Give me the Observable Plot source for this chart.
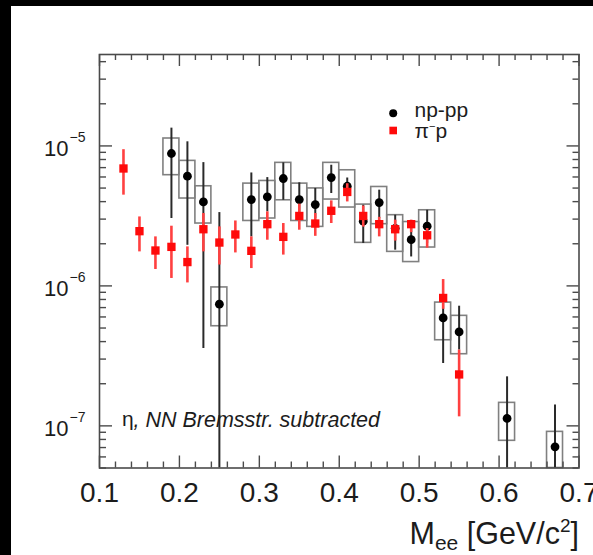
<!DOCTYPE html>
<html>
<head>
<meta charset="utf-8">
<script src="https://cdn.jsdelivr.net/npm/d3@7"></script>
<script src="https://cdn.jsdelivr.net/npm/@observablehq/plot@0.6"></script>
<style>
  html, body { margin: 0; padding: 0; background: #fff; }
  #wrap { position: relative; width: 593px; height: 555px; overflow: hidden; }
  #wrap svg { position: absolute; left: 0; top: 0; }
  .barL { position: absolute; left: 0; top: 0; width: 11px; height: 555px; background: #000; }
  .barT { position: absolute; left: 0; top: 0; width: 593px; height: 6px; background: #000; }
</style>
</head>
<body>
<div id="wrap"><div class="barL"></div><div class="barT"></div></div>
<script>
// ---- data: np-pp (black) ----
const npX     = [0.19, 0.21, 0.23, 0.25, 0.29, 0.31, 0.33, 0.35, 0.37, 0.39, 0.41, 0.43, 0.45, 0.47, 0.49, 0.51, 0.53, 0.55, 0.61, 0.67];
const npY     = [8.83e-6, 6.08e-6, 3.98e-6, 7.4e-7, 4.14e-6, 4.33e-6, 5.85e-6, 4.14e-6, 3.81e-6, 5.94e-6, 5.15e-6, 2.9e-6, 3.94e-6, 2.58e-6, 2.14e-6, 2.67e-6, 5.9e-7, 4.69e-7, 1.13e-7, 7.08e-8];
const npErrLo = [3.03e-6, 1.95e-6, 3.57e-7, 5e-8, 2.24e-6, 3.38e-6, 4.09e-6, 3.2e-6, 3.03e-6, 4.57e-6, 4.37e-6, 2.01e-6, 3.03e-6, 1.8e-6, 1.61e-6, 2.01e-6, 2.79e-7, 3.48e-7, 5e-8, 5e-8];
const npErrHi = [1.34e-5, 1.07e-5, 7.6e-6, 3.34e-6, 6.41e-6, 5.94e-6, 7.57e-6, 5.45e-6, 4.97e-6, 7.28e-6, 5.9e-6, 3.77e-6, 4.83e-6, 3.2e-6, 2.86e-6, 3.47e-6, 7.48e-7, 7.16e-7, 2.24e-7, 1.41e-7];
const npSysLo = [6.18e-6, 4.21e-6, 2.79e-6, 5.15e-7, 2.91e-6, 3.03e-6, 4.09e-6, 2.91e-6, 2.64e-6, 4.14e-6, 3.63e-6, 2.03e-6, 2.76e-6, 1.75e-6, 1.48e-6, 1.88e-6, 4.09e-7, 3.25e-7, 7.82e-8, 5e-8];
const npSysHi = [1.13e-5, 7.82e-6, 5.15e-6, 9.75e-7, 5.38e-6, 5.62e-6, 7.57e-6, 5.38e-6, 4.97e-6, 7.57e-6, 6.7e-6, 3.81e-6, 5.09e-6, 3.2e-6, 2.86e-6, 3.47e-6, 7.6e-7, 6.11e-7, 1.46e-7, 9.06e-8];
const npBinHalf = 0.01;

// ---- data: pi- p (red) ----
const pimX     = [0.13, 0.15, 0.17, 0.19, 0.21, 0.23, 0.25, 0.27, 0.29, 0.31, 0.33, 0.35, 0.37, 0.39, 0.41, 0.43, 0.45, 0.47, 0.49, 0.51, 0.53, 0.55];
const pimY     = [6.9e-6, 2.46e-6, 1.79e-6, 1.9e-6, 1.48e-6, 2.54e-6, 2.04e-6, 2.33e-6, 1.78e-6, 2.76e-6, 2.24e-6, 3.16e-6, 2.79e-6, 3.44e-6, 4.69e-6, 3.16e-6, 2.76e-6, 2.54e-6, 2.76e-6, 2.3e-6, 8.2e-7, 2.33e-7];
const pimErrLo = [4.45e-6, 1.75e-6, 1.31e-6, 1.13e-6, 1.05e-6, 1.75e-6, 1.41e-6, 1.72e-6, 1.33e-6, 2.12e-6, 1.66e-6, 2.5e-6, 2.26e-6, 2.79e-6, 3.98e-6, 2.63e-6, 2.24e-6, 2.09e-6, 2.4e-6, 1.86e-6, 6.8e-7, 1.16e-7];
const pimErrHi = [9.4e-6, 3.11e-6, 2.24e-6, 2.67e-6, 1.9e-6, 3.29e-6, 2.64e-6, 2.91e-6, 2.24e-6, 3.38e-6, 2.79e-6, 3.84e-6, 3.29e-6, 4.05e-6, 5.37e-6, 3.72e-6, 3.09e-6, 2.95e-6, 2.95e-6, 2.57e-6, 1.11e-6, 3.48e-7];

// ---- axes ----
const xDomain = [0.1, 0.7];
const yDomain = [5e-8, 4.5e-5];
const xMajor = [0.1, 0.2, 0.3, 0.4, 0.5, 0.6, 0.7];
const xMajorLabels = ["0.1", "0.2", "0.3", "0.4", "0.5", "0.6", "0.7"];
const xMinor = [0.12, 0.14, 0.16, 0.18, 0.22, 0.24, 0.26, 0.28, 0.32, 0.34, 0.36, 0.38, 0.42, 0.44, 0.46, 0.48, 0.52, 0.54, 0.56, 0.58, 0.62, 0.64, 0.66, 0.68];
const yMajor = [1e-5, 1e-6, 1e-7];
const yMajorExp = ["\u22125", "\u22126", "\u22127"];
const yMinor = [5e-8, 6e-8, 7e-8, 8e-8, 9e-8,
                2e-7, 3e-7, 4e-7, 5e-7, 6e-7, 7e-7, 8e-7, 9e-7,
                2e-6, 3e-6, 4e-6, 5e-6, 6e-6, 7e-6, 8e-6, 9e-6,
                2e-5, 3e-5, 4e-5];
const xTitle = "Mee [GeV/c2]";
const legendLabels = ["np-pp", "pi-p"];
const noteGreek = "\u03B7";
const noteText = ", NN Bremsstr. subtracted";

const np = npX.map((x, i) => ({x, y: npY[i], lo: npErrLo[i], hi: npErrHi[i], slo: npSysLo[i], shi: npSysHi[i]}));
const pim = pimX.map((x, i) => ({x, y: pimY[i], lo: pimErrLo[i], hi: pimErrHi[i]}));

const W = 593, H = 555;
const mL = 99, mR = 14.5, mT = 54, mB = 87.5;
const pW = W - mL - mR, pH = H - mT - mB;
const axisCol = "#4a4a4a";
const txtCol = "#1c1c1c";
const majLen = 12, minLen = 6;

const svg = Plot.plot({
  width: W, height: H,
  marginLeft: mL, marginRight: mR, marginTop: mT, marginBottom: mB,
  style: {fontFamily: "'Liberation Sans', Arial, Helvetica, sans-serif", background: "transparent", overflow: "visible"},
  x: {domain: xDomain, axis: null},
  y: {type: "log", domain: yDomain, axis: null},
  marks: [
    // systematic boxes
    Plot.rect(np, {x1: d => d.x - npBinHalf, x2: d => d.x + npBinHalf, y1: "slo", y2: "shi", fill: "none", stroke: "#808080", strokeWidth: 1.6}),
    // np-pp error bars and points
    Plot.ruleX(np, {x: "x", y1: "lo", y2: "hi", stroke: "#2a2a2a", strokeWidth: 2}),
    Plot.dot(np, {x: "x", y: "y", r: 4.4, fill: "#000", stroke: "none"}),
    // pi- p
    Plot.ruleX(pim, {x: "x", y1: "lo", y2: "hi", stroke: "#ff4040", strokeWidth: 2.6}),
    Plot.dot(pim, {x: "x", y: "y", symbol: "square", r: 4.7, fill: "#ff0a0a", stroke: "none"}),
    // frame
    Plot.frame({stroke: axisCol, strokeWidth: 1.6}),
    // ticks bottom/top
    Plot.ruleX(xMajor, {x: d => d, insetTop: pH - majLen, stroke: axisCol, strokeWidth: 1.4}),
    Plot.ruleX(xMinor, {x: d => d, insetTop: pH - minLen, stroke: axisCol, strokeWidth: 1.4}),
    Plot.ruleX(xMajor, {x: d => d, insetBottom: pH - majLen, stroke: axisCol, strokeWidth: 1.4}),
    Plot.ruleX(xMinor, {x: d => d, insetBottom: pH - minLen, stroke: axisCol, strokeWidth: 1.4}),
    // ticks left/right
    Plot.ruleY(yMajor, {y: d => d, insetRight: pW - majLen - 1, stroke: axisCol, strokeWidth: 1.4}),
    Plot.ruleY(yMinor, {y: d => d, insetRight: pW - minLen - 1, stroke: axisCol, strokeWidth: 1.4}),
    Plot.ruleY(yMajor, {y: d => d, insetLeft: pW - majLen, stroke: axisCol, strokeWidth: 1.4}),
    Plot.ruleY(yMinor, {y: d => d, insetLeft: pW - minLen, stroke: axisCol, strokeWidth: 1.4}),
    // x tick labels
    Plot.text(xMajor, {x: d => d, frameAnchor: "bottom", text: (d, i) => xMajorLabels[i], dy: 25, fontSize: 28, lineAnchor: "middle", fill: txtCol}),
    // y tick labels
    Plot.text(yMajor, {y: d => d, frameAnchor: "left", text: () => "10", textAnchor: "end", dx: -31, dy: 3, fontSize: 22, lineAnchor: "middle", fill: txtCol}),
    Plot.text(yMajor, {y: d => d, frameAnchor: "left", text: (d, i) => yMajorExp[i], textAnchor: "start", dx: -30, dy: -8, fontSize: 14, lineAnchor: "middle", fill: txtCol}),
    // x title
    Plot.text([xTitle], {frameAnchor: "bottom-right", text: d => d, textAnchor: "end", dy: 66, fontSize: 30.5, lineAnchor: "middle", fill: txtCol}),
    // legend
    Plot.dot([0], {frameAnchor: "top-left", dx: 293.7, dy: 58.7, r: 4, fill: "#000"}),
    Plot.dot([0], {frameAnchor: "top-left", dx: 293.7, dy: 76, symbol: "square", r: 4.3, fill: "#ff0a0a"}),
    Plot.text([legendLabels[0]], {frameAnchor: "top-left", text: d => d, dx: 315, dy: 55.6, textAnchor: "start", fontSize: 21, lineAnchor: "middle", fill: txtCol}),
    Plot.text([legendLabels[1]], {frameAnchor: "top-left", text: d => d, dx: 315, dy: 77.1, textAnchor: "start", fontSize: 21, lineAnchor: "middle", fill: txtCol}),
    // annotation
    Plot.text([noteGreek], {frameAnchor: "bottom-left", text: d => d, dx: 22.5, dy: -48.3, textAnchor: "start", fontSize: 21, lineAnchor: "middle", fill: txtCol}),
    Plot.text([noteText], {frameAnchor: "bottom-left", text: d => d, dx: 34, dy: -48.3, textAnchor: "start", fontSize: 21.5, fontStyle: "italic", lineAnchor: "middle", fill: txtCol})
  ]
});

// rich text: subscripts / superscripts
d3.select(svg).selectAll("text").each(function () {
  const t = d3.select(this);
  const s = this.textContent;
  if (s === xTitle) {
    t.text(null);
    t.append("tspan").text("M");
    t.append("tspan").attr("font-size", 21).attr("dy", 6).text("ee");
    t.append("tspan").attr("dy", -6).text(" [GeV/c");
    t.append("tspan").attr("font-size", 19).attr("dy", -12).text("2");
    t.append("tspan").attr("dy", 12).text("]");
  } else if (s === legendLabels[1]) {
    t.text(null);
    t.append("tspan").text("\u03C0");
    t.append("tspan").attr("font-size", 11).attr("dy", -8).text("\u2212");
    t.append("tspan").attr("dy", 8).text("p");
  }
});

document.getElementById("wrap").prepend(svg);
</script>
</body>
</html>
